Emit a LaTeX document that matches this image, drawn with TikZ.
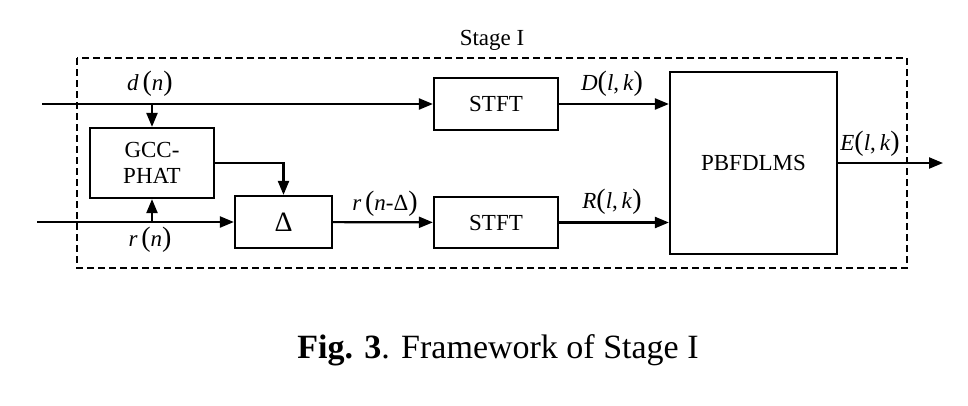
\documentclass[tikz,border=0pt]{standalone}
\usepackage{fontspec}
\setmainfont{Liberation Serif}
\usepackage{tikz}
\usetikzlibrary{arrows.meta}

\newcommand{\bigpar}[1]{{\fontsize{28}{28}\selectfont(}#1{\fontsize{28}{28}\selectfont)}}

\begin{document}
\begin{tikzpicture}[x=1pt, y=-1pt, line width=2.2pt,
  every node/.style={font=\fontsize{23}{26}\selectfont},
  blockbox/.style={draw, line width=2.2pt, align=center, inner sep=0pt},
  sig/.style={-{Triangle[length=14pt,width=11pt]}},
  lbl/.style={inner sep=0pt}]
  \useasboundingbox (0,0) rectangle (968,405);

  % Stage frame
  \draw[line width=2pt, dash pattern=on 7pt off 4pt] (77,58) rectangle (907,268);
  \node[lbl] (stage) at (492,40) {Stage I};

  % Blocks
  \node[blockbox, minimum width=124pt, minimum height=70pt] (gcc) at (152,163) {GCC-\\PHAT};
  \node[blockbox, minimum width=97pt, minimum height=52pt] (delta) at (283.5,222) {\fontsize{28}{30}\selectfont Δ};
  \node[blockbox, minimum width=124pt, minimum height=52pt] (stft1) at (496,104) {STFT};
  \node[blockbox, minimum width=124pt, minimum height=51pt] (stft2) at (496,222.5) {STFT};
  \node[blockbox, minimum width=167pt, minimum height=182pt] (pbf) at (753.5,163) {PBFDLMS};

  % Inputs and output
  \coordinate (din) at (42,104);
  \coordinate (rin) at (37,222);
  \coordinate (eout) at (943,163);
  \coordinate (dj) at (gcc.north |- din);
  \coordinate (rj) at (gcc.south |- rin);

  % Arrows
  \draw[sig] (din) -- (stft1);
  \draw[sig] (dj) -- (gcc.north);
  \draw[sig] (rin) -- (delta);
  \draw[sig] (rj) -- (gcc.south);
  \draw[sig] (gcc.east) -| (delta.north);
  \draw[sig] (delta) -- (stft2);
  \draw[sig] (stft1.east) -- (stft1.east -| pbf.west);
  \draw[sig] (stft2.east) -- (stft2.east -| pbf.west);
  \draw[sig] (pbf.east |- eout) -- (eout);

  % Labels
  \node[lbl] (dlbl) at (150,84) {\textit{d}\,\bigpar{\textit{n}}};
  \node[lbl] (rlbl) at (150,240) {\textit{r}\,\bigpar{\textit{n}}};
  \node[lbl] (rdlbl) at (385,204) {\textit{r}\,\bigpar{\textit{n}-Δ}};
  \node[lbl] (Dlbl) at (612,84) {\textit{D}\bigpar{\textit{l},\,\textit{k}}};
  \node[lbl] (Rlbl) at (612,202) {\textit{R}\bigpar{\textit{l},\,\textit{k}}};
  \node[lbl] (Elbl) at (870,144) {\textit{E}\bigpar{\textit{l},\,\textit{k}}};

  % Caption
  \node[lbl, font=\fontsize{34}{38}\selectfont] (caption) at (498,350) {\textbf{Fig. 3}. Framework of Stage I};
\end{tikzpicture}
\end{document}
